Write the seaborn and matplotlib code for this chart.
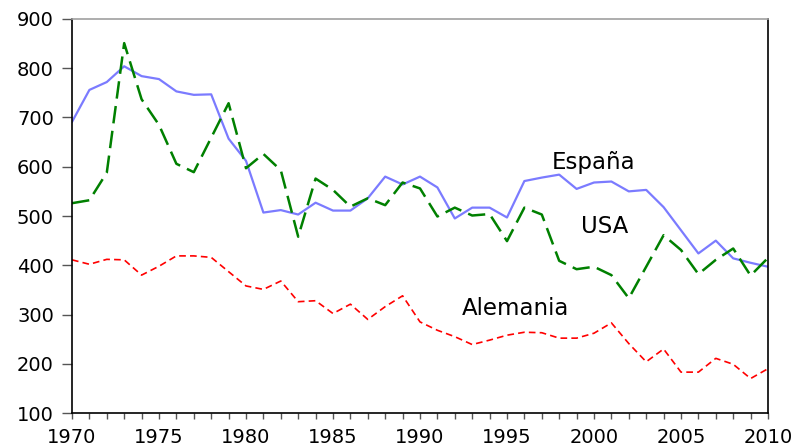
import numpy as np
import pandas as pd
import seaborn as sns
import matplotlib.pyplot as plt
from matplotlib.ticker import MultipleLocator

years = list(range(1970, 2011))
espana = [691, 756, 772, 804, 784, 778, 753, 746, 747, 657, 612, 507, 512, 503, 527,
          511, 511, 536, 580, 564, 580, 558, 495, 517, 517, 497, 571, 578, 584, 555,
          568, 570, 550, 553, 518, 471, 424, 450, 414, 405, 397]
usa = [526, 532, 588, 851, 737, 685, 606, 589, 659, 729, 597, 626, 593, 458, 576,
       553, 519, 536, 522, 568, 556, 499, 517, 501, 504, 449, 517, 503, 409, 392,
       397, 380, 333, 397, 461, 431, 382, 411, 434, 379, 415]
alemania = [411, 402, 412, 411, 380, 398, 419, 419, 416, 387, 358, 351, 368, 326, 328,
            302, 321, 290, 316, 338, 285, 268, 255, 239, 248, 258, 264, 263, 252, 252,
            262, 283, 241, 204, 230, 183, 183, 211, 199, 170, 190]

df = pd.DataFrame({"year": years, "España": espana, "USA": usa, "Alemania": alemania})

sns.set_style("ticks")
plt.rcParams['font.family'] = ['DejaVu Sans']

fig = plt.figure(figsize=(7.99, 4.48), dpi=100)
ax = fig.add_axes([0.0901, 0.0781, 0.8711, 0.8795])

sns.lineplot(data=df, x="year", y="España", ax=ax, color="#7b7bff", lw=1.6)
sns.lineplot(data=df, x="year", y="USA", ax=ax, color="#008000", lw=1.8,
             linestyle=(0, (7, 3)))
sns.lineplot(data=df, x="year", y="Alemania", ax=ax, color="#ff0000", lw=1.2,
             linestyle=(0, (4, 2.5)))

ax.set_xlim(1970, 2010)
ax.set_ylim(100, 900)
ax.set_xticks(range(1970, 2011, 5))
ax.xaxis.set_minor_locator(MultipleLocator(1))
ax.set_yticks(range(100, 901, 100))
ax.set_xlabel("")
ax.set_ylabel("")
ax.tick_params(axis="both", labelsize=14, labelcolor="black", width=1,
               color="#555555", direction="out")
ax.tick_params(axis="y", length=7, pad=6)
ax.tick_params(axis="x", which="both", length=4.5, pad=6, width=1, color="#555555")

for s in ["left", "bottom", "right"]:
    ax.spines[s].set_color("black")
    ax.spines[s].set_linewidth(1.2)
ax.spines["top"].set_color("#a0a0a0")
ax.spines["top"].set_linewidth(1.2)
ax.spines["right"].set_visible(True)
ax.spines["top"].set_visible(True)

ax.text(2000.0, 595, "España", fontsize=16.5, color="black", ha="center", va="baseline")
ax.text(2000.6, 465, "USA", fontsize=16.5, color="black", ha="center", va="baseline")
ax.text(1995.5, 299, "Alemania", fontsize=16.5, color="black", ha="center", va="baseline")

fig.savefig("out.png", dpi=100)
